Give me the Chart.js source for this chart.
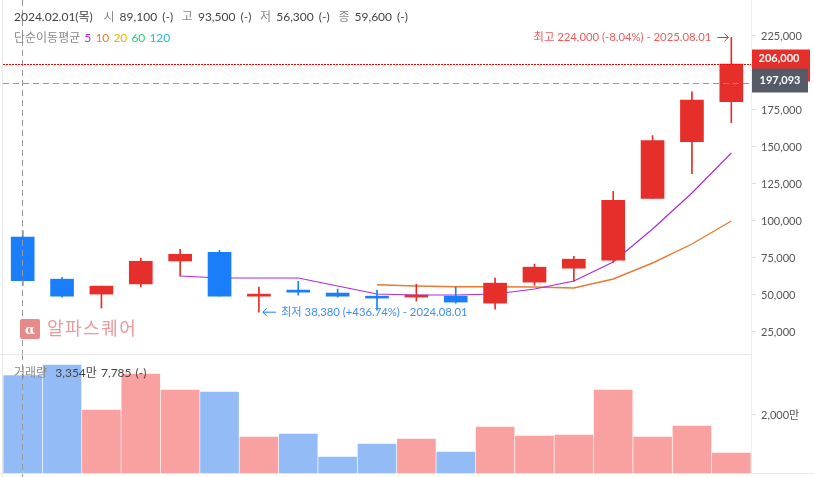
<!DOCTYPE html>
<html lang="ko">
<head>
<meta charset="utf-8">
<title>알파스퀘어 월봉</title>
<script src="https://cdn.jsdelivr.net/npm/chart.js@4"></script>
<style>
  html, body { margin: 0; padding: 0; background: #fff; overflow: hidden; }
  body { width: 814px; height: 477px; position: relative; font-family: Lato, "Noto Sans CJK KR", sans-serif; }
  canvas { position: absolute; left: 0; }
  #priceChart { top: 0; }
  #volumeChart { top: 354px; }
  .info { position: absolute; left: 14px; font-size: 12px; line-height: 16px; white-space: pre; color: #444; }
  .info .k { color: #888; }
  .info .g { display: inline-block; width: 78.3px; word-spacing: 2px; }
  .info .d { display: inline-block; width: 89.5px; }
</style>
</head>
<body>
<canvas id="priceChart" width="814" height="354"></canvas>
<canvas id="volumeChart" width="814" height="123"></canvas>
<div class="info" style="top:9px"><span class="d">2024.02.01(목)</span><span class="g"><span class="k">시</span> 89,100 (-)</span><span class="g"><span class="k">고</span> 93,500 (-)</span><span class="g"><span class="k">저</span> 56,300 (-)</span><span class="g"><span class="k">종</span> 59,600 (-)</span></div>
<div class="info" style="top:30px;word-spacing:1px"><span class="k">단순이동평균</span> <span style="color:#b52fe3">5</span> <span style="color:#ee7a30">10</span> <span style="color:#e6b800">20</span> <span style="color:#22d070">60</span> <span style="color:#22b8d8">120</span></div>
<div class="info" style="top:365px;word-spacing:1px"><span class="k">거래량</span>  3,354만 7,785 (-)</div>
<script>
const months = ['2024.02', '2024.03', '2024.04', '2024.05', '2024.06', '2024.07', '2024.08', '2024.09', '2024.10', '2024.11', '2024.12', '2025.01', '2025.02', '2025.03', '2025.04', '2025.05', '2025.06', '2025.07', '2025.08'];
const opens = [89100, 60700, 50600, 57500, 73000, 78900, 49200, 53300, 51300, 49200, 48600, 49200, 44500, 58700, 68100, 73500, 115200, 153600, 180600];
const highs = [93500, 62000, 56000, 74800, 80900, 80200, 55300, 59300, 54000, 53300, 57300, 55300, 61400, 70800, 76200, 120000, 157700, 187300, 224000];
const lows = [56300, 48600, 41200, 55500, 62900, 49200, 38380, 49900, 48600, 39800, 45900, 44500, 40500, 56600, 59300, 72100, 115200, 132000, 166400];
const closes = [59600, 49200, 56000, 72800, 77500, 49200, 50600, 51900, 49200, 47900, 49900, 45200, 58000, 68800, 74200, 113900, 154300, 181700, 206000];
const volumes = [3354.7785, 3724, 2172, 3414, 2862, 2793, 1241, 1345, 552, 1000, 1172, 724, 1586, 1276, 1310, 2862, 1241, 1621, 690];
const ma5 = [null, null, null, null, 62830, 61480, 61480, 61480, 56075, 50670, 49995, 49995, 50670, 54050, 59450, 72290, 94590, 118910, 145940];
const ma10 = [null, null, null, null, null, null, null, null, null, 56950, 56075, 55600, 55600, 55400, 54720, 60800, 71620, 84450, 100000];
const priceTicks = [225000, 175000, 150000, 125000, 100000, 75000, 50000, 25000];
const volumeTicks = [2000];

const RED = '#e62e2a';
const BLUE = '#1a7efb';
const FONT = 'Lato, "Noto Sans CJK KR", sans-serif';

const crossIndex = 0;
const crossPrice = 193400;
const crossLabel = '197,093';

const upDown = (up, down) => closes.map((c, i) => c >= opens[i] ? up : down);

// keep the plot area flush with the canvas edges, the axis only takes its width
function fixedAxis(axis) {
    axis.width = 63;
    axis.paddingTop = 0;
    axis.paddingBottom = 0;
}

// light frame lines + the vertical crosshair, shared by both charts
const framePlugin = {
    id: 'frame',
    beforeDatasetsDraw(chart) {
        const { ctx, chartArea, height } = chart;
        ctx.save();
        ctx.strokeStyle = '#e8e8e8';
        ctx.lineWidth = 1;
        ctx.beginPath();
        ctx.moveTo(chartArea.left - 0.5, 0);
        ctx.lineTo(chartArea.left - 0.5, height);
        ctx.stroke();
        ctx.restore();
    },
    afterDatasetsDraw(chart) {
        const { ctx, height, scales } = chart;
        const x = Math.round(scales.x.getPixelForValue(crossIndex)) - 0.5;
        ctx.save();
        ctx.strokeStyle = '#999';
        ctx.setLineDash([6, 4]);
        ctx.beginPath();
        ctx.moveTo(x, 0);
        ctx.lineTo(x, height);
        ctx.stroke();
        ctx.restore();
    }
};

const priceOverlay = {
    id: 'priceOverlay',
    afterDatasetsDraw(chart) {
        const { ctx, chartArea, scales } = chart;
        const { x: xs, y: ys } = scales;
        const last = closes.length - 1;
        const lastY = Math.round(ys.getPixelForValue(closes[last])) + 0.5;
        const crossY = Math.round(ys.getPixelForValue(crossPrice)) + 0.5;
        ctx.save();

        // current price and crosshair lines
        ctx.lineWidth = 1;
        ctx.strokeStyle = '#ff0000';
        ctx.setLineDash([2, 1]);
        ctx.beginPath();
        ctx.moveTo(chartArea.left, lastY);
        ctx.lineTo(chartArea.right, lastY);
        ctx.stroke();
        ctx.strokeStyle = '#999';
        ctx.setLineDash([6, 4]);
        ctx.beginPath();
        ctx.moveTo(chartArea.left, crossY);
        ctx.lineTo(chartArea.right, crossY);
        ctx.stroke();
        ctx.setLineDash([]);

        // highest / lowest annotations
        ctx.font = '11.3px ' + FONT;
        ctx.textBaseline = 'middle';
        const hiX = xs.getPixelForValue(last);
        const hiY = ys.getPixelForValue(highs[last]);
        ctx.fillStyle = '#f05a5a';
        ctx.textAlign = 'right';
        ctx.fillText('최고 224,000 (-8.04%) - 2025.08.01', hiX - 20, hiY);
        drawArrow(ctx, hiX - 14, hiX - 3, hiY, RED);

        const lowIdx = lows.indexOf(Math.min(...lows));
        const loX = xs.getPixelForValue(lowIdx);
        const loY = ys.getPixelForValue(lows[lowIdx]);
        ctx.fillStyle = '#3d8bfb';
        ctx.textAlign = 'left';
        ctx.fillText('최저 38,380 (+436.74%) - 2024.08.01', loX + 22, loY);
        drawArrow(ctx, loX + 17, loX + 4, loY, BLUE);

        // watermark
        ctx.fillStyle = '#e68a8a';
        ctx.beginPath();
        ctx.roundRect(20, 319, 20, 20, 2);
        ctx.fill();
        ctx.fillStyle = '#fff';
        ctx.font = 'bold 13px "DejaVu Serif"';
        ctx.textAlign = 'center';
        ctx.fillText('α', 30, 331);
        ctx.fillStyle = '#eb9a9a';
        ctx.font = '18px ' + FONT;
        ctx.letterSpacing = '1.5px';
        ctx.textAlign = 'left';
        ctx.fillText('알파스퀘어', 47, 329);
        ctx.letterSpacing = '0px';

        // price tags on the axis
        ctx.textAlign = 'center';
        ctx.font = 'bold 11px ' + FONT;
        ctx.fillStyle = RED;
        ctx.fillRect(chartArea.right + 1, lastY - 15, 58, 32);
        ctx.fillStyle = '#fff';
        ctx.fillText(closes[last].toLocaleString('en-US'), chartArea.right + 28, lastY - 6);
        ctx.fillStyle = '#555a66';
        ctx.fillRect(chartArea.right + 1, crossY - 15, 56, 24);
        ctx.fillStyle = '#fff';
        ctx.fillText(crossLabel, chartArea.right + 29, crossY - 3);
        ctx.restore();
    }
};

function drawArrow(ctx, x0, x1, y, color) {
    const head = x1 > x0 ? -4 : 4;
    ctx.strokeStyle = color;
    ctx.lineWidth = 1;
    ctx.beginPath();
    ctx.moveTo(x0, y);
    ctx.lineTo(x1, y);
    ctx.moveTo(x1 + head, y - 4);
    ctx.lineTo(x1, y);
    ctx.lineTo(x1 + head, y + 4);
    ctx.stroke();
}

const volumeOverlay = {
    id: 'volumeOverlay',
    afterDraw(chart) {
        const { ctx, chartArea, width, height } = chart;
        ctx.save();
        ctx.fillStyle = '#e8e8e8';
        ctx.fillRect(0, 0, chartArea.right, 1);
        ctx.fillRect(0, chartArea.bottom, width, 1);
        // next tick is cut off by the bottom of the picture
        ctx.fillStyle = '#555';
        ctx.font = '11px ' + FONT;
        ctx.textAlign = 'left';
        ctx.textBaseline = 'middle';
        ctx.fillText('100', 763, height + 5);
        ctx.restore();
    }
};

new Chart(document.getElementById('priceChart'), {
    type: 'bar',
    data: {
        labels: months,
        datasets: [
            { type: 'bar', data: opens.map((o, i) => [o, closes[i]]), backgroundColor: upDown(RED, BLUE), barThickness: 23, grouped: false, order: 1 },
            { type: 'bar', data: lows.map((l, i) => [l, highs[i]]), backgroundColor: upDown(RED, BLUE), barThickness: 1, grouped: false, order: 2 },
            { type: 'line', data: ma5, borderColor: '#ac2be0', borderWidth: 1.2, pointRadius: 0, tension: 0, order: 3 },
            { type: 'line', data: ma10, borderColor: '#e57a35', borderWidth: 1.4, pointRadius: 0, tension: 0, order: 3 }
        ]
    },
    options: {
        responsive: false,
        animation: false,
        layout: { padding: { left: 3 } },
        plugins: { legend: { display: false }, tooltip: { enabled: false } },
        scales: {
            x: { display: false },
            y: {
                position: 'right',
                min: 10127,
                max: 249325,
                afterFit: fixedAxis,
                afterBuildTicks: axis => { axis.ticks = priceTicks.map(value => ({ value })); },
                border: { color: '#eee' },
                grid: { drawOnChartArea: false, tickLength: 5, tickColor: '#ddd' },
                ticks: {
                    padding: 5,
                    color: '#555',
                    font: { family: FONT, size: 11 },
                    callback: v => v.toLocaleString('en-US')
                }
            }
        }
    },
    plugins: [framePlugin, priceOverlay]
});

new Chart(document.getElementById('volumeChart'), {
    type: 'bar',
    data: {
        labels: months,
        datasets: [
            { data: volumes, backgroundColor: upDown('#f9a1a1', '#93bcf7'), barThickness: 38 }
        ]
    },
    options: {
        responsive: false,
        animation: false,
        layout: { padding: { left: 3, bottom: 4 } },
        plugins: { legend: { display: false }, tooltip: { enabled: false } },
        scales: {
            x: { display: false },
            y: {
                position: 'right',
                min: 0,
                max: 4103,
                afterFit: fixedAxis,
                afterBuildTicks: axis => { axis.ticks = volumeTicks.map(value => ({ value })); },
                border: { color: '#eee' },
                grid: { drawOnChartArea: false, tickLength: 5, tickColor: '#ddd' },
                ticks: {
                    padding: 5,
                    color: '#555',
                    font: { family: FONT, size: 11 },
                    callback: v => v.toLocaleString('en-US') + '만'
                }
            }
        }
    },
    plugins: [framePlugin, volumeOverlay]
});
</script>
</body>
</html>
